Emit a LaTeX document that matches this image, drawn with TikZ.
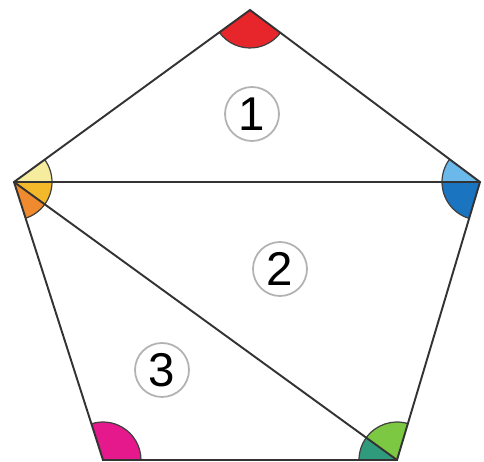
\documentclass[tikz,border=0pt]{standalone}
\usepackage{fontspec}
\setmainfont{Liberation Sans}
\usepackage{xcolor}
\usetikzlibrary{angles}

\definecolor{topred}{HTML}{E6262B}
\definecolor{paleyellow}{HTML}{F6EC9E}
\definecolor{gold}{HTML}{F4B92A}
\definecolor{leftorange}{HTML}{EF8A2E}
\definecolor{lightblue}{HTML}{6BB8EA}
\definecolor{darkblue}{HTML}{1A74C0}
\definecolor{magenta}{HTML}{E6198C}
\definecolor{leafgreen}{HTML}{7DC843}
\definecolor{teal}{HTML}{2F9A7C}

\begin{document}
\begin{tikzpicture}[
    x=0.02cm, y=-0.02cm,
    edge/.style={draw=black!80, line width=1.1pt},
    corner/.style={draw=black!75, line width=0.7pt, angle radius=0.76cm},
    label/.style={circle, draw=black!30, line width=1pt, minimum size=1.08cm, inner sep=0pt, font=\fontsize{27}{30}\selectfont}
  ]
    \useasboundingbox (0,0) rectangle (484,462);
    \coordinate (t) at (250,10);
    \coordinate (r) at (480,182);
    \coordinate (br) at (397,460);
    \coordinate (bl) at (103,460);
    \coordinate (l) at (14,182);
    % angles
    \pic[corner, fill=topred] {angle = l--t--r};
    \pic[corner, fill=paleyellow] {angle = r--l--t};
    \pic[corner, fill=gold] {angle = br--l--r};
    \pic[corner, fill=leftorange] {angle = bl--l--br};
    \pic[corner, fill=lightblue] {angle = t--r--l};
    \pic[corner, fill=darkblue] {angle = l--r--br};
    \pic[corner, fill=leafgreen] {angle = r--br--l};
    \pic[corner, fill=teal] {angle = l--br--bl};
    \pic[corner, fill=magenta] {angle = br--bl--l};
    % pentagon and diagonals
    \draw[edge] (t) -- (r) -- (br) -- (bl) -- (l) -- cycle;
    \draw[edge] (l) -- (r);
    \draw[edge] (l) -- (br);
    % triangle numbers
    \node[label] (n1) at (252,114) {1};
    \node[label] (n2) at (280,269) {2};
    \node[label] (n3) at (162,370) {3};
  \end{tikzpicture}
\end{document}
